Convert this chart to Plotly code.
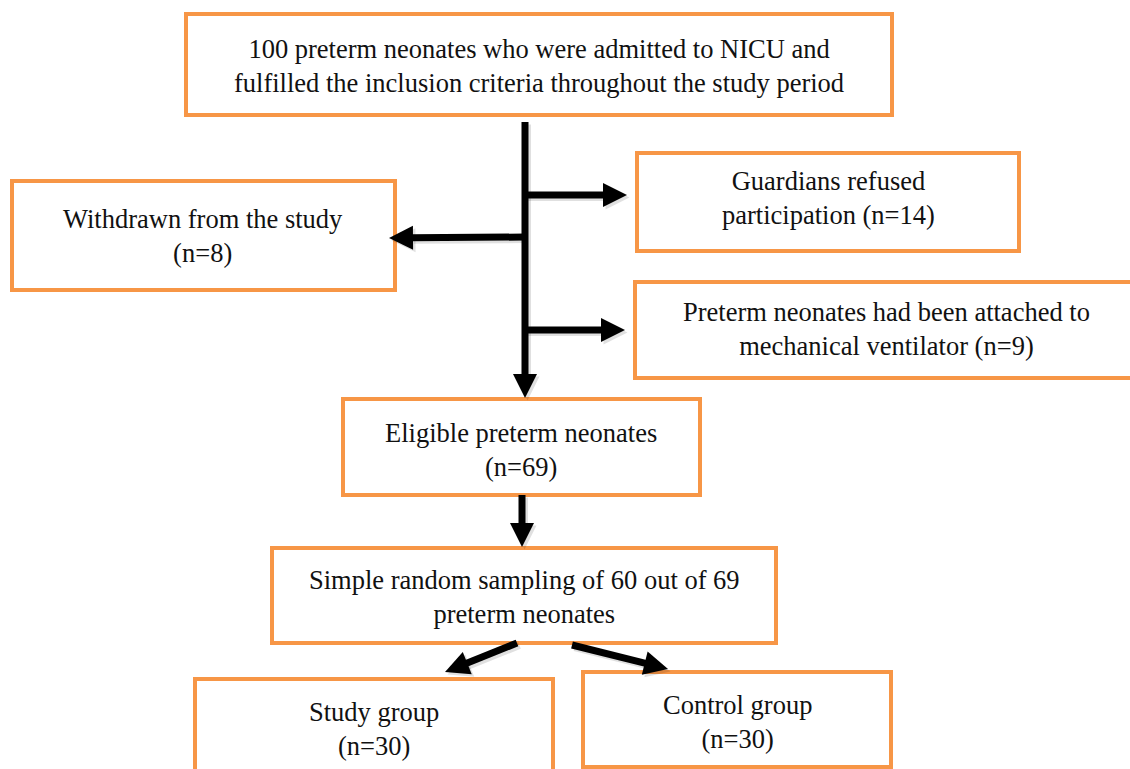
import math
import plotly.graph_objects as go

W, H = 1130, 769

# ---- data (flowchart content) ----
node_titles = [
    "100 preterm neonates who were admitted to NICU and<br>fulfilled the inclusion criteria throughout the study period",
    "Withdrawn from the study",
    "Guardians refused<br>participation",
    "Preterm neonates had been attached to<br>mechanical ventilator",
    "Eligible preterm neonates",
    "Simple random sampling of 60 out of 69<br>preterm neonates",
    "Study group",
    "Control group",
]
node_counts = [None, 8, 14, 9, 69, None, 30, 30]
count_style = ["none", "newline", "inline", "inline", "newline", "none", "newline", "newline"]

# ---- layout geometry (pixel boxes: x0, y0, x1, y1) ----
boxes = [
    (186, 14, 892, 115),
    (12, 181, 395, 290),
    (637, 153, 1019, 251),
    (635, 282, 1140, 378),
    (343, 399, 700, 495),
    (272, 548, 776, 643),
    (195, 679, 553, 780),
    (583, 672, 891, 767),
]
text_y = [66, 236, 198, 329, 450, 597, 729, 722]
text_x = [539, 203, 828, 886, 521, 524, 374, 737]

# connectors: (x0, y0, x1, y1)
connectors = [
    (525, 122, 525, 398),
    (525, 195, 627, 195),
    (525, 330, 625, 330),
    (525, 237, 389, 238),
    (522, 495, 522, 547),
    (517, 643, 445, 672),
    (572, 645, 668, 669),
]

ORANGE = "#F79646"
FONT = "Liberation Serif"

fig = go.Figure()
fig.add_trace(go.Scatter(x=[0, W], y=[0, H], mode="markers",
                         marker=dict(opacity=0), hoverinfo="skip"))

shapes = []
for (x0, y0, x1, y1) in boxes:
    shapes.append(dict(type="rect", xref="x", yref="y", x0=x0, y0=y0, x1=x1, y1=y1,
                       line=dict(color=ORANGE, width=4), fillcolor="white", layer="below"))

HEAD_L, HEAD_HW, SHAFT_W = 24, 12, 7
for (x0, y0, x1, y1) in connectors:
    dx, dy = x1 - x0, y1 - y0
    L = math.hypot(dx, dy)
    ux, uy = dx / L, dy / L
    px, py = -uy, ux
    bx, by = x1 - ux * HEAD_L, y1 - uy * HEAD_L
    off, col = 2.5, "rgba(0,0,0,0.12)"
    shapes.append(dict(type="line", xref="x", yref="y", x0=x0 + off, y0=y0 + off,
                       x1=bx + ux * 2 + off, y1=by + uy * 2 + off,
                       line=dict(color=col, width=SHAFT_W)))
    shapes.append(dict(type="path", xref="x", yref="y",
                       path=f"M {x1+off},{y1+off} L {bx+px*HEAD_HW+off},{by+py*HEAD_HW+off} "
                            f"L {bx-px*HEAD_HW+off},{by-py*HEAD_HW+off} Z",
                       fillcolor=col, line=dict(width=0)))
    shapes.append(dict(type="line", xref="x", yref="y", x0=x0, y0=y0,
                       x1=bx + ux * 2, y1=by + uy * 2,
                       line=dict(color="black", width=SHAFT_W)))
    shapes.append(dict(type="path", xref="x", yref="y",
                       path=f"M {x1},{y1} L {bx+px*HEAD_HW},{by+py*HEAD_HW} "
                            f"L {bx-px*HEAD_HW},{by-py*HEAD_HW} Z",
                       fillcolor="black", line=dict(width=0)))

annotations = []
for i, title in enumerate(node_titles):
    c = node_counts[i]
    if count_style[i] == "newline":
        txt = f"{title}<br>(n={c})"
    elif count_style[i] == "inline":
        txt = f"{title} (n={c})"
    else:
        txt = title
    annotations.append(dict(x=text_x[i], y=text_y[i], xref="x", yref="y", text=txt,
                            showarrow=False, xanchor="center", yanchor="middle",
                            align="center",
                            font=dict(family=FONT, size=26.5, color="#111111")))

fig.update_layout(
    width=W, height=H, margin=dict(l=0, r=0, t=0, b=0),
    xaxis=dict(range=[0, W], visible=False, fixedrange=True),
    yaxis=dict(range=[H, 0], visible=False, fixedrange=True),
    plot_bgcolor="white", paper_bgcolor="white", showlegend=False,
    shapes=shapes, annotations=annotations,
)

fig.write_html("out.html", config={"displayModeBar": False},
               post_script="document.body.style.margin='0';document.body.style.overflow='hidden';")
